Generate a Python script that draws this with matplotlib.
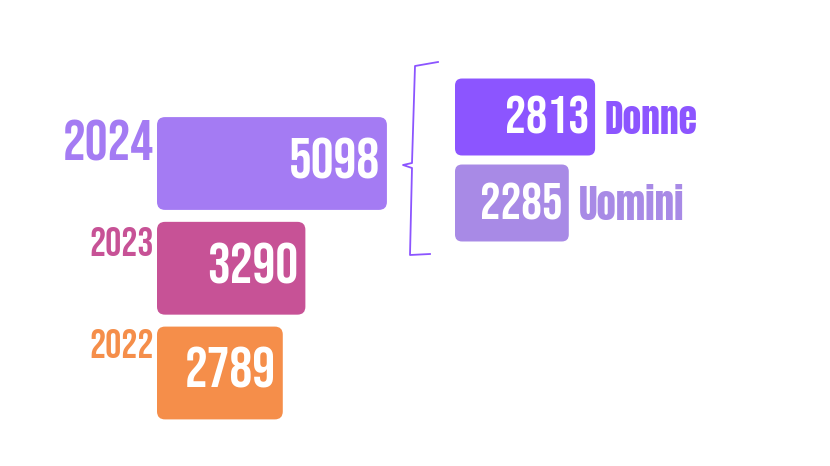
import matplotlib
matplotlib.use('Agg')
import matplotlib.pyplot as plt
from matplotlib.patches import FancyBboxPatch
from matplotlib.lines import Line2D

# data
years = ['2024', '2023', '2022']
totals = [5098, 3290, 2789]
year_colors = ['#a47bf3', '#c75296', '#f58e4a']

genders = ['Donne', 'Uomini']
split_2024 = [2813, 2285]
gender_colors = ['#8c55ff', '#a88ae6']

W, H = 830, 466
NUM_FONT = ['Bebas Neue', 'DejaVu Sans']
WORD_FONT = ['Anton', 'DejaVu Sans']
fig = plt.figure(figsize=(W / 100, H / 100), dpi=100)


def px_axes(x0, y0, x1, y1):
    # axes placed by pixel box (top-left origin)
    ax = fig.add_axes([x0 / W, 1 - y1 / H, (x1 - x0) / W, (y1 - y0) / H])
    ax.axis('off')
    return ax


def rounded_bars(ax, vals, colors, height, radius_px):
    fig.canvas.draw()
    inv = ax.transData.inverted()
    (xa, ya), (xb, yb) = inv.transform([(0, 0), (1, 1)])
    ux, uy = abs(xb - xa), abs(yb - ya)  # data units per pixel
    for i, (v, c) in enumerate(zip(vals, colors)):
        p = FancyBboxPatch((0, i - height / 2), v, height,
                           boxstyle="round,pad=0,rounding_size=%f" % (radius_px * ux),
                           mutation_aspect=uy / ux, fc=c, ec='none')
        ax.add_patch(p)


# left: yearly totals
BH1 = 0.886
ax1 = px_axes(157, 100, 400, 430)
ax1.set_xlim(0, 243 / 0.0451)
ax1.set_ylim(2 + 57 / 104.75, -63.5 / 104.75)
rounded_bars(ax1, totals, year_colors, BH1, 8)
year_fs = [41, 29, 29]
year_dy = [-43, -34, -31]
for i, (y, v, c) in enumerate(zip(years, totals, year_colors)):
    ax1.annotate(str(v), (v, i), xytext=(-7, -15), textcoords='offset pixels',
                 ha='right', va='baseline', color='white', fontsize=41,
                 family=NUM_FONT)
    ax1.annotate(y, (0, i - BH1 / 2), xytext=(-3, year_dy[i]), textcoords='offset pixels',
                 ha='right', va='baseline', color=c, fontsize=year_fs[i],
                 family=NUM_FONT, annotation_clip=False)

# right: 2024 split by gender
ax2 = px_axes(455, 60, 720, 260)
ax2.set_xlim(0, 265 / 0.0498)
ax2.set_ylim(1 + 57 / 86, -57 / 86)
rounded_bars(ax2, split_2024, gender_colors, 0.895, 7)
num_sizes = [38, 37]
g_sizes = [27, 28]
for i, (g, v, c) in enumerate(zip(genders, split_2024, gender_colors)):
    ax2.annotate(str(v), (v, i), xytext=(-6, -17), textcoords='offset pixels',
                 ha='right', va='baseline', color='white', fontsize=num_sizes[i],
                 family=NUM_FONT)
    ax2.annotate(g, (v, i), xytext=(10, -17), textcoords='offset pixels',
                 ha='left', va='baseline', color=c, fontsize=g_sizes[i],
                 family=WORD_FONT, annotation_clip=False)

# hand-drawn brace
bx = [438, 415, 412, 403, 412, 410, 430]
by = [62, 66, 163, 165, 168, 255, 254]
fig.add_artist(Line2D([x / W for x in bx], [1 - y / H for y in by],
                      color='#8c55ff', lw=1.3, solid_joinstyle='round'))

fig.savefig('out.png', dpi=100, facecolor='white')
